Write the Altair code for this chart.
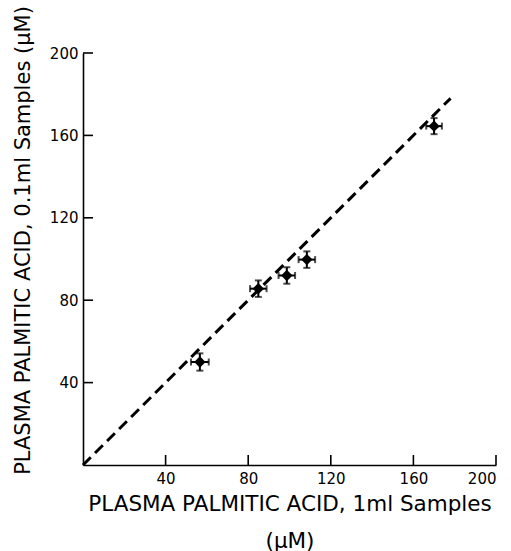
import altair as alt
import pandas as pd

# Data
x_vals = [56.6, 84.9, 98.7, 108.4, 170.0]
y_vals = [50.0, 85.6, 92.0, 99.7, 164.5]
x_err = [4.3, 4.0, 4.0, 4.0, 3.8]
y_err = [4.2, 4.0, 4.0, 4.0, 3.9]
line_x = [0, 178]
line_y = [0, 178]
tick_values = [40, 80, 120, 160, 200]

W, H = 413, 412
FONT = "DejaVu Sans"

df = pd.DataFrame({
    "x": x_vals, "y": y_vals,
    "xlo": [a - e for a, e in zip(x_vals, x_err)],
    "xhi": [a + e for a, e in zip(x_vals, x_err)],
    "ylo": [a - e for a, e in zip(y_vals, y_err)],
    "yhi": [a + e for a, e in zip(y_vals, y_err)],
})
line_df = pd.DataFrame({"x": line_x, "y": line_y})
ticks_df = pd.DataFrame({"v": tick_values})

xscale = alt.Scale(domain=[0, 200], nice=False, zero=True)
yscale = alt.Scale(domain=[0, 200], nice=False, zero=True)

xaxis = alt.Axis(
    values=tick_values, ticks=False, grid=False,
    domainColor="black", domainWidth=1.6,
    labelColor="black", labelFontSize=15, labelFont=FONT, labelPadding=6,
    title=["PLASMA PALMITIC ACID,  1ml Samples", "(\u03bcM)"],
    titleFont=FONT, titleFontSize=21.5, titleFontWeight="normal", titleColor="black",
    titleLineHeight=37, titleY=28, titleBaseline="top",
)
yaxis = alt.Axis(
    values=tick_values, ticks=False, grid=False,
    domainColor="black", domainWidth=1.6,
    labelColor="black", labelFontSize=15, labelFont=FONT, labelPadding=5,
    title="PLASMA PALMITIC ACID,  0.1ml Samples (\u03bcM)",
    titleFont=FONT, titleFontSize=21, titleFontWeight="normal", titleColor="black",
    titleX=-50, titleY=187, titleAngle=-90, titleBaseline="bottom", titleAlign="center",
)

base_line = alt.Chart(line_df).mark_line(
    color="black", strokeDash=[11, 6], strokeWidth=3
).encode(
    x=alt.X("x:Q", scale=xscale, axis=xaxis),
    y=alt.Y("y:Q", scale=yscale, axis=yaxis),
)

xbars = alt.Chart(df).mark_rule(color="black", strokeWidth=2).encode(
    x=alt.X("xlo:Q", scale=xscale), x2="xhi:Q", y=alt.Y("y:Q", scale=yscale)
)
ybars = alt.Chart(df).mark_rule(color="black", strokeWidth=2).encode(
    y=alt.Y("ylo:Q", scale=yscale), y2="yhi:Q", x=alt.X("x:Q", scale=xscale)
)
xcap_lo = alt.Chart(df).mark_tick(color="black", thickness=2, size=7, orient="vertical").encode(
    x=alt.X("xlo:Q", scale=xscale), y=alt.Y("y:Q", scale=yscale)
)
xcap_hi = alt.Chart(df).mark_tick(color="black", thickness=2, size=7, orient="vertical").encode(
    x=alt.X("xhi:Q", scale=xscale), y=alt.Y("y:Q", scale=yscale)
)
ycap_lo = alt.Chart(df).mark_tick(color="black", thickness=2, size=7, orient="horizontal").encode(
    x=alt.X("x:Q", scale=xscale), y=alt.Y("ylo:Q", scale=yscale)
)
ycap_hi = alt.Chart(df).mark_tick(color="black", thickness=2, size=7, orient="horizontal").encode(
    x=alt.X("x:Q", scale=xscale), y=alt.Y("yhi:Q", scale=yscale)
)
points = alt.Chart(df).mark_point(
    shape="diamond", filled=True, color="black", size=130, opacity=1
).encode(
    x=alt.X("x:Q", scale=xscale), y=alt.Y("y:Q", scale=yscale)
)

# inward-pointing axis ticks
xticks = alt.Chart(ticks_df).mark_rule(color="black", strokeWidth=1.6).encode(
    x=alt.X("v:Q", scale=xscale), y=alt.value(H), y2=alt.value(H - 10)
)
yticks = alt.Chart(ticks_df).mark_rule(color="black", strokeWidth=1.6).encode(
    y=alt.Y("v:Q", scale=yscale), x=alt.value(0), x2=alt.value(10)
)

chart = alt.layer(
    base_line, xbars, ybars, xcap_lo, xcap_hi, ycap_lo, ycap_hi, points, xticks, yticks
).properties(
    width=W, height=H,
    padding={"left": 83, "top": 53, "right": 15, "bottom": 86},
    autosize=alt.AutoSizeParams(type="none"),
    background="white",
).configure_view(stroke=None)

chart.save("out.html", embed_options={"renderer": "svg", "actions": False})
